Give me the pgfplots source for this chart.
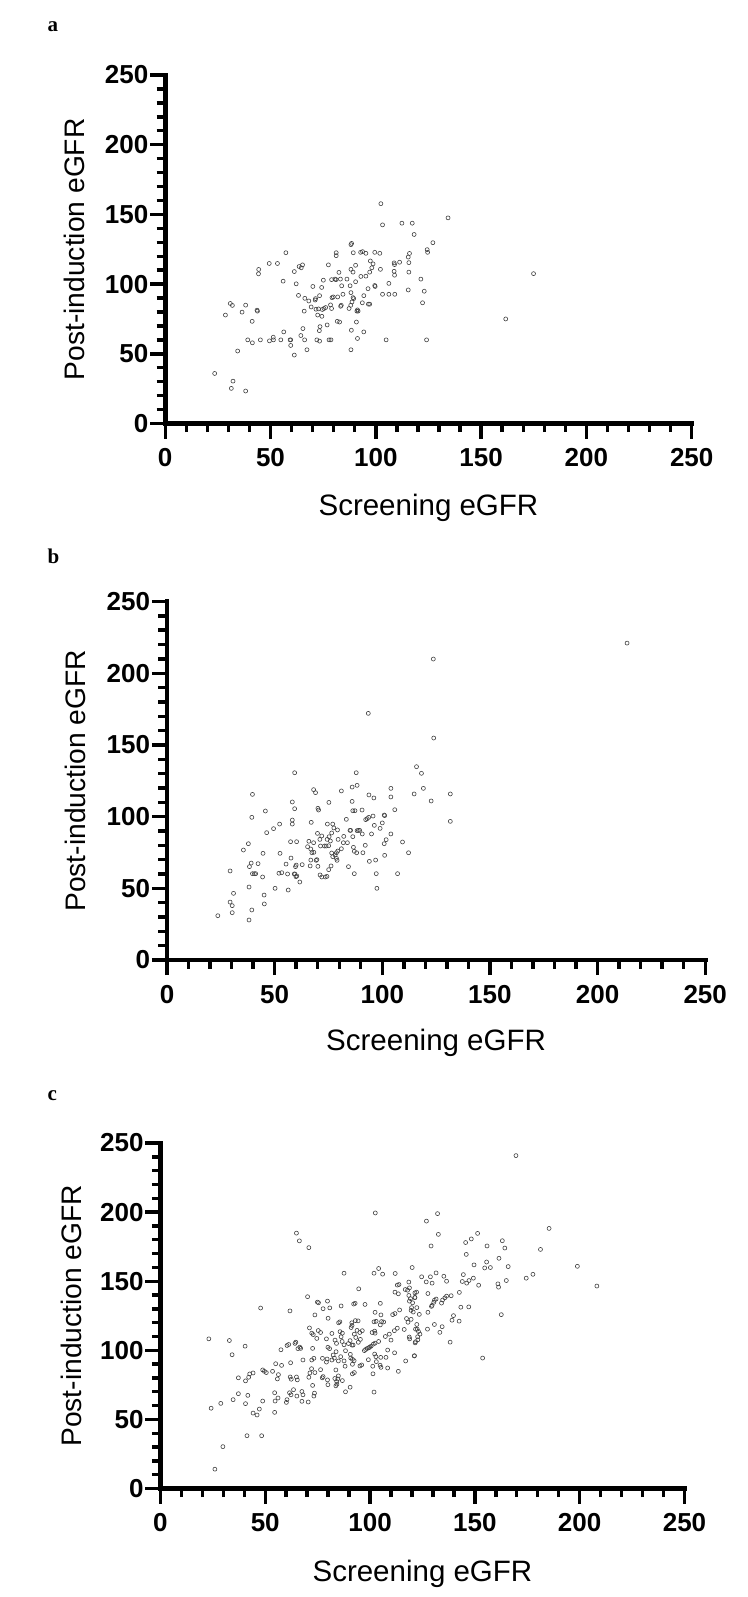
\documentclass[border=0pt]{standalone}
\usepackage{pgfplots}
\pgfplotsset{compat=1.18}
\usepackage{pgfplotstable}
\usepackage{fontspec}
\setmainfont{Liberation Sans}
\newfontfamily\panelfont{Liberation Serif}
\newcommand\tickfont{\fontsize{26}{27}\selectfont\bfseries}
\newcommand\xlabfont{\fontsize{29.5}{31}\selectfont}
\newcommand\ylabfont{\fontsize{28.2}{30}\selectfont}

\pgfplotstableread{
x y
102.4 157.7
103.2 142.5
112.4 143.7
117.3 143.7
118.2 135.6
134.3 147.5
127.1 129.7
124.4 124.7
124.6 122.8
115.7 115.4
116.0 122.0
115.4 119.4
115.7 108.6
121.4 103.6
123.0 94.9
115.4 95.8
122.2 86.6
124.1 60.0
108.7 115.2
108.9 114.0
108.7 109.2
108.9 106.4
111.3 115.7
106.2 100.5
103.2 92.7
106.2 92.7
109.0 92.7
104.9 60.0
99.5 122.8
101.9 122.1
97.4 116.6
98.7 114.5
98.1 111.7
97.1 108.6
95.3 105.7
102.2 110.6
99.5 99.0
99.7 98.3
96.3 96.7
94.3 91.7
93.6 86.6
96.5 85.6
97.1 85.6
94.3 65.7
91.3 61.0
92.8 122.8
93.7 123.3
95.3 122.1
90.4 113.5
92.9 105.5
90.4 101.7
89.2 108.6
88.2 110.6
88.2 128.3
88.5 129.2
89.3 122.5
81.2 122.5
81.2 120.4
82.5 108.4
86.3 103.6
87.8 98.8
88.2 93.9
89.2 90.3
89.5 89.6
88.7 87.2
88.1 84.8
87.3 82.5
91.3 81.5
91.6 80.6
91.0 80.6
90.8 72.8
88.4 66.9
88.2 52.9
77.5 113.8
79.0 103.2
80.6 103.6
81.1 103.2
83.2 103.6
83.8 98.8
84.4 92.7
81.9 90.8
79.8 90.8
79.2 90.3
83.6 84.8
83.3 84.1
78.5 85.1
79.0 82.5
75.4 82.5
74.6 81.8
76.2 83.2
71.6 82.0
74.4 76.9
72.4 77.8
81.7 73.3
82.8 72.8
76.9 70.7
77.8 60.0
78.7 60.0
73.5 69.5
73.2 66.6
72.0 60.0
73.3 59.1
70.1 98.3
74.3 97.6
75.1 102.8
73.3 91.7
71.4 89.6
71.2 88.6
68.2 87.9
66.3 89.8
63.3 91.9
66.0 80.6
69.3 83.6
72.8 82.2
65.4 68.1
64.4 63.1
66.2 60.0
67.3 52.9
61.3 49.1
62.2 100.2
61.3 109.0
63.6 112.6
64.6 111.7
65.2 113.8
57.3 122.5
56.0 102.1
53.3 114.8
49.4 114.8
59.3 60.0
59.6 60.0
59.6 56.0
56.3 65.7
54.9 60.0
51.3 61.9
51.4 60.0
49.5 59.3
45.2 60.0
41.4 57.9
39.2 60.0
34.4 52.0
41.3 73.3
43.6 81.3
43.8 80.6
44.3 107.4
44.4 110.5
38.2 84.9
36.5 79.9
30.9 86.1
31.9 84.7
28.6 77.8
32.2 30.4
31.4 25.2
38.2 23.3
23.5 35.9
174.9 107.5
161.7 75.0
}\dataA

\pgfplotstableread{
x y
93.5 172.0
123.9 154.8
115.9 134.8
118.2 130.2
119.1 119.7
114.8 115.8
131.6 115.8
122.7 110.9
131.6 96.7
59.3 130.6
87.9 130.6
88.3 121.8
86.0 120.6
68.1 118.8
69.0 116.7
81.0 117.9
104.0 119.7
104.0 113.7
93.8 115.1
96.1 113.0
105.8 104.8
58.2 110.2
59.3 105.5
75.2 109.9
70.1 105.8
70.4 104.6
86.0 110.6
86.3 104.1
87.3 104.1
90.6 104.6
39.7 115.5
39.4 99.5
45.7 103.9
100.9 101.1
101.1 100.7
95.7 100.4
93.7 99.5
92.3 97.9
93.0 98.6
83.3 98.1
67.0 96.0
58.2 97.6
58.2 94.8
52.3 94.8
49.5 91.6
46.3 88.8
100.0 95.6
96.3 93.9
99.0 91.8
74.5 94.8
77.0 94.8
77.5 92.1
79.2 90.7
85.0 90.4
85.3 90.4
88.9 90.4
89.5 90.4
88.3 90.2
86.3 86.0
90.7 87.9
95.0 87.9
104.0 87.9
101.8 83.9
100.9 81.1
109.4 82.3
112.2 74.8
101.1 73.0
96.9 69.7
94.0 68.8
97.2 60.2
107.1 60.2
97.5 50.0
87.0 60.2
84.3 65.1
92.1 80.0
91.0 74.8
87.0 75.8
86.6 78.6
88.1 74.8
83.8 81.8
81.9 81.8
81.0 77.6
82.1 86.2
79.5 84.1
76.5 88.6
75.3 86.0
74.4 84.1
75.9 83.0
73.1 79.5
75.1 79.7
73.9 79.5
71.3 79.5
71.0 84.1
71.9 86.5
69.9 88.3
68.1 81.8
65.9 82.8
65.3 79.0
66.8 77.4
67.3 74.8
68.2 75.1
69.6 70.0
69.3 69.5
66.8 69.7
66.5 65.6
70.1 65.3
71.1 59.3
71.9 57.9
73.5 57.9
74.3 58.3
75.1 63.0
76.2 65.6
77.0 72.1
76.5 74.6
78.1 73.2
78.7 74.8
79.3 76.0
79.0 69.5
78.7 70.9
60.2 82.5
57.4 82.5
57.6 71.1
60.0 66.2
59.7 65.1
59.1 60.0
59.4 60.0
59.9 58.1
60.3 58.6
61.7 54.4
62.8 66.5
56.0 60.0
53.3 60.9
52.0 60.5
55.3 66.9
52.5 74.4
56.3 48.8
50.2 50.0
45.1 45.3
45.2 39.1
44.6 74.4
44.4 57.9
42.3 67.2
39.1 67.6
38.3 65.1
39.7 60.2
40.6 60.2
41.2 60.2
38.1 50.9
39.4 34.9
38.1 27.9
35.5 76.7
37.8 81.1
29.3 62.1
30.9 46.5
29.3 40.4
30.3 37.9
30.3 33.0
23.6 30.9
213.7 221.0
123.7 209.9
}\dataB

\pgfplotstableread{
x y
26.0 14.0
29.8 30.3
41.3 38.2
48.3 38.2
23.1 108.3
32.9 107.1
40.4 103.0
34.2 96.8
24.2 58.1
28.8 61.6
34.7 64.3
37.2 68.6
40.6 61.4
41.7 67.4
37.2 80.1
40.6 77.9
42.1 80.5
42.6 82.9
44.2 83.6
44.2 54.6
46.1 53.2
47.2 57.5
48.8 63.3
47.8 130.6
54.5 55.1
54.7 63.3
54.5 69.3
56.1 65.5
56.3 82.4
55.8 79.3
55.0 90.3
48.8 85.8
49.6 84.8
50.5 83.9
53.5 84.8
57.8 89.1
57.5 100.4
60.4 103.5
61.2 104.2
61.8 128.5
62.1 91.0
61.9 80.7
62.4 79.1
64.9 80.7
65.3 78.6
64.2 105.0
64.6 105.9
65.6 101.2
66.5 102.3
66.9 101.4
68.0 93.0
61.6 69.3
62.3 67.8
60.4 64.3
60.1 62.3
63.5 71.5
65.1 66.9
67.5 70.2
68.0 67.8
70.5 62.6
67.5 63.1
73.2 66.9
73.5 69.0
72.6 74.6
70.8 80.5
71.3 83.6
72.1 86.7
73.7 83.9
72.2 93.0
73.2 94.2
72.6 101.4
71.1 116.2
72.2 112.4
72.9 111.4
75.3 114.3
74.9 134.9
75.4 134.4
70.2 138.8
74.6 108.6
73.7 125.6
77.6 130.1
79.7 135.6
80.0 123.2
80.8 130.7
77.2 80.1
77.6 81.0
79.9 75.1
79.7 78.6
79.2 91.5
79.5 93.7
80.7 101.2
81.8 93.0
82.4 96.6
83.0 94.4
83.8 99.0
84.9 92.3
83.3 107.4
84.0 105.0
85.0 119.9
85.6 120.6
86.2 132.1
87.6 155.8
85.7 113.5
86.8 112.4
86.2 109.8
86.7 106.4
87.6 104.0
88.3 99.7
86.0 95.4
87.6 92.3
88.1 88.5
83.7 85.8
84.9 81.5
84.6 79.3
84.1 77.4
83.2 79.6
84.2 75.5
83.7 74.3
86.8 78.1
88.3 70.0
90.5 73.3
91.6 89.9
92.4 92.5
91.6 93.5
90.8 94.4
91.4 103.8
91.9 103.8
94.4 105.8
90.5 107.0
89.7 104.9
93.2 109.3
92.5 111.7
93.8 114.4
95.1 112.9
95.4 107.9
91.0 116.5
91.4 118.0
91.3 119.9
93.0 121.5
94.3 121.3
92.2 133.5
92.9 134.0
94.6 144.5
97.6 133.2
96.3 114.2
97.3 99.8
97.9 100.6
98.7 101.4
99.4 101.8
99.8 102.3
100.5 103.0
101.6 104.5
102.4 105.2
104.1 106.4
99.2 93.2
101.3 88.5
103.0 91.8
101.4 83.0
101.9 69.8
102.2 97.3
102.8 95.4
104.8 89.2
105.2 87.7
108.4 87.2
107.6 94.9
111.7 98.2
113.5 84.8
117.0 92.3
121.2 96.1
102.4 112.4
102.2 113.9
101.0 112.9
101.9 120.6
102.9 121.0
104.9 118.4
105.5 120.8
106.5 120.5
105.2 125.6
102.4 127.5
104.9 134.0
107.3 110.0
109.2 111.7
110.8 125.8
111.9 126.6
113.0 116.0
114.1 129.2
116.3 115.1
117.4 123.0
118.1 120.3
118.7 109.6
119.8 130.9
120.6 127.7
120.3 134.4
118.8 135.6
118.5 139.7
117.9 143.5
116.8 144.0
111.9 142.1
113.5 140.9
113.0 147.2
113.8 147.6
112.0 155.6
106.0 155.1
101.9 155.8
104.1 159.2
120.1 159.9
118.5 149.4
118.8 145.2
121.4 141.6
121.4 138.1
122.3 130.9
121.7 115.3
122.7 109.8
121.7 106.2
118.9 108.3
111.6 114.2
110.0 107.4
108.4 100.2
105.1 94.9
90.6 97.1
91.6 83.0
92.5 83.9
95.2 88.7
96.0 89.4
77.3 94.2
76.4 86.0
79.9 102.2
81.8 112.2
79.2 108.3
76.4 112.9
169.6 240.9
132.2 198.9
126.9 193.5
132.6 183.9
129.1 175.5
151.3 184.6
148.3 180.6
145.6 178.0
145.9 169.4
155.8 175.5
163.1 179.3
164.3 174.0
161.5 166.6
185.4 188.2
181.3 173.0
198.9 160.8
208.2 146.5
165.9 160.6
174.5 152.2
177.7 155.0
165.0 150.5
161.0 148.1
161.3 145.7
162.6 125.8
153.7 94.4
155.6 163.9
157.4 159.9
154.7 159.6
149.6 161.8
151.8 147.1
149.3 152.2
147.2 150.5
146.1 148.6
144.5 154.8
144.0 149.8
142.6 141.9
147.1 131.4
143.3 131.2
142.5 121.1
139.8 125.1
139.1 121.8
138.7 139.5
136.5 139.2
135.7 138.0
134.6 136.4
134.1 134.2
135.2 153.6
131.5 156.0
128.8 153.2
129.6 148.6
124.6 153.2
126.8 149.5
136.5 150.0
122.2 142.1
127.6 141.1
131.5 137.1
130.7 136.2
130.4 134.7
129.6 132.5
129.3 131.8
127.6 127.5
123.5 126.0
119.6 122.4
121.4 138.3
119.6 128.9
119.3 137.4
122.3 118.7
122.5 115.3
123.1 113.6
123.8 111.7
122.8 107.6
121.5 105.4
127.4 115.3
130.7 118.7
133.3 113.0
134.4 117.1
138.2 105.9
121.1 95.9
64.9 184.8
66.3 179.2
70.8 174.3
102.5 199.4
}\dataC

\pgfplotsset{
  panel/.style={
    scale only axis,
    xmin=0, xmax=250, ymin=0, ymax=250,
    axis x line*=bottom, axis y line*=left,
    axis line style={line width=4.8pt, line cap=rect, -},
    every outer x axis line/.append style={line width=4.8pt, line cap=rect, -},
    every outer y axis line/.append style={line width=4.8pt, line cap=rect, -},
    xtick={0,50,...,250}, ytick={0,50,...,250},
    minor tick num=4,
    tick align=outside,
    major tick length=15pt, minor tick length=8.5pt,
    tick style={line width=3.4pt, black},
    major tick style={line width=3.4pt, black},
    minor tick style={line width=3.4pt, black},
    /pgf/number format/assume math mode=true,
    xticklabel style={font=\tickfont, inner sep=0pt, anchor=base, yshift=-28.4pt},
    yticklabel style={font=\tickfont, inner sep=0pt, anchor=east, xshift=-1.7pt},
    clip=false,
  },
  pts/.style={only marks, mark=o, mark size=2pt, black!75, mark options={line width=0.6pt}},
}

\begin{document}
\begin{tikzpicture}
\path[use as bounding box] (0,0) rectangle (747pt,-1597pt);
\node[anchor=base west, font=\panelfont\fontsize{21}{22}\selectfont\bfseries] at (44pt,-31.7pt) {a};
\node[anchor=base west, font=\panelfont\fontsize{21}{22}\selectfont\bfseries] at (44pt,-563.3pt) {b};
\node[anchor=base west, font=\panelfont\fontsize{21}{22}\selectfont\bfseries] at (44pt,-1100.7pt) {c};

\begin{axis}[panel, at={(165.2pt,-423.5pt)}, anchor=south west, width=526.5pt, height=348.5pt]
\addplot[pts] table {\dataA};
\node[anchor=base, font=\xlabfont] at ([yshift=-91.5pt]axis description cs:0.5,0) {Screening eGFR};
\node[rotate=90, anchor=base, font=\ylabfont] at ([xshift=-80.3pt]axis description cs:0,0.5) {Post-induction eGFR};
\end{axis}

\begin{axis}[panel, at={(167pt,-960pt)}, anchor=south west, width=538.2pt, height=358.5pt]
\addplot[pts] table {\dataB};
\node[anchor=base, font=\xlabfont] at ([yshift=-90.5pt]axis description cs:0.5,0) {Screening eGFR};
\node[rotate=90, anchor=base, font=\ylabfont] at ([xshift=-81.8pt]axis description cs:0,0.5) {Post-induction eGFR};
\end{axis}

\begin{axis}[panel, at={(160.4pt,-1488.5pt)}, anchor=south west, width=524.1pt, height=345.5pt]
\addplot[pts] table {\dataC};
\node[anchor=base, font=\xlabfont] at ([yshift=-92.5pt]axis description cs:0.5,0) {Screening eGFR};
\node[rotate=90, anchor=base, font=\ylabfont] at ([xshift=-79.2pt]axis description cs:0,0.5) {Post-induction eGFR};
\end{axis}
\end{tikzpicture}
\end{document}
